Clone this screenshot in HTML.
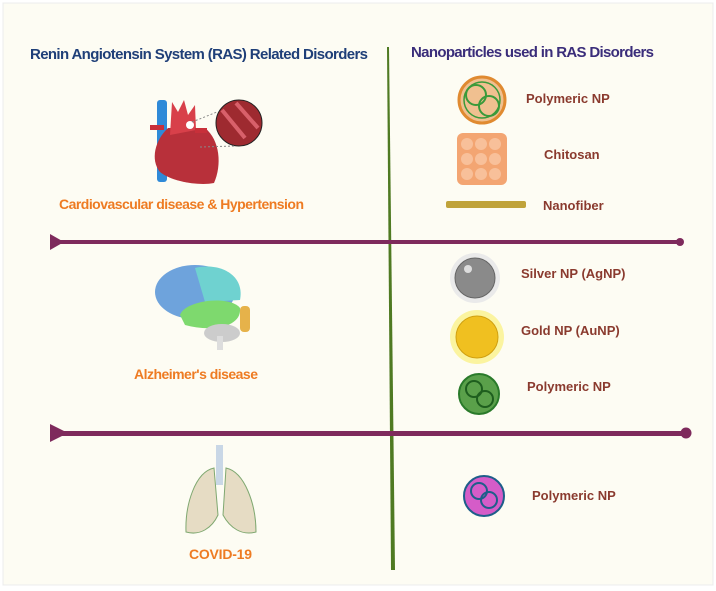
<!DOCTYPE html>
<html><head><meta charset="utf-8"><style>
html,body{margin:0;padding:0;background:#fff}
svg{display:block}
text{font-family:"Liberation Sans",sans-serif;font-weight:bold}
</style></head><body>
<svg width="716" height="591" viewBox="0 0 716 591" xmlns="http://www.w3.org/2000/svg">
<rect x="3" y="3" width="710" height="582" fill="#fdfcf3" stroke="#ececec" stroke-width="1"/>
<!-- vertical line -->
<polygon points="387,47 389,47 395,570 391,570" fill="#4f7a22"/>
<!-- horizontal lines -->
<rect x="58" y="240" width="622" height="4" fill="#7e2a5c"/>
<polygon points="50,234 50,250 64,242" fill="#7e2a5c"/>
<circle cx="680" cy="242" r="4" fill="#7e2a5c"/>
<rect x="58" y="431" width="628" height="5" fill="#7e2a5c"/>
<polygon points="50,424 50,442 68,433" fill="#7e2a5c"/>
<circle cx="686" cy="433" r="5.5" fill="#7e2a5c"/>
<!-- titles -->
<text x="30" y="59" font-size="15" fill="#1f3f78" textLength="338">Renin Angiotensin System (RAS) Related Disorders</text>
<text x="411" y="57" font-size="15" fill="#3a2d7a" textLength="243">Nanoparticles used in RAS Disorders</text>
<!-- heart -->
<rect x="157" y="100" width="10" height="82" fill="#2f8ad8" rx="3"/>
<path d="M168,128 C155,140 150,160 160,172 C172,182 200,186 214,183 C222,165 220,140 205,128 Z" fill="#b8303a"/>
<path d="M170,135 L172,102 L178,112 L184,100 L188,115 L195,105 L196,130 Z" fill="#d8404a"/>
<rect x="150" y="125" width="14" height="5" fill="#c8303a"/>
<rect x="195" y="128" width="12" height="5" fill="#c8303a"/>
<circle cx="190" cy="125" r="4" fill="#fff"/>
<circle cx="239" cy="123" r="23" fill="#9e2a30" stroke="#222" stroke-width="1"/>
<path d="M222,110 L245,138 M236,103 L258,128" stroke="#d8606a" stroke-width="4"/>
<line x1="192" y1="122" x2="217" y2="112" stroke="#888" stroke-dasharray="2,2"/>
<line x1="200" y1="147" x2="235" y2="146" stroke="#888" stroke-dasharray="2,2"/>
<text x="59" y="209" font-size="14" fill="#ee7b22" textLength="245">Cardiovascular disease &amp; Hypertension</text>
<!-- brain -->
<ellipse cx="195" cy="292" rx="40" ry="27" fill="#6ea3dc"/>
<path d="M195,268 C220,262 245,275 240,300 L205,302 Z" fill="#6fd2d0"/>
<path d="M180,315 C185,300 230,295 240,308 C242,328 210,332 185,325 Z" fill="#7ed96e"/>
<rect x="240" y="306" width="10" height="26" rx="4" fill="#e6b24a"/>
<ellipse cx="222" cy="333" rx="18" ry="9" fill="#ccc"/>
<rect x="217" y="336" width="6" height="14" fill="#ddd"/>
<text x="134" y="379" font-size="14" fill="#ee7b22" textLength="124">Alzheimer's disease</text>
<!-- lungs -->
<rect x="216" y="445" width="7" height="40" fill="#c9d7e6"/>
<path d="M214,468 C195,472 185,505 186,532 C200,536 212,528 218,515 Z" fill="#e6dcc4" stroke="#7fa870"/>
<path d="M226,468 C245,472 256,505 256,532 C242,536 230,528 223,515 Z" fill="#e6dcc4" stroke="#7fa870"/>
<text x="189" y="559" font-size="14" fill="#ee7b22" textLength="63">COVID-19</text>
<!-- NPs right -->
<circle cx="482" cy="100" r="23" fill="#f0c090" stroke="#e08a30" stroke-width="3"/>
<circle cx="476" cy="95" r="10" fill="none" stroke="#3a9a3a" stroke-width="2"/>
<circle cx="489" cy="106" r="10" fill="none" stroke="#3a9a3a" stroke-width="2"/>
<circle cx="482" cy="100" r="18" fill="none" stroke="#3a9a3a" stroke-width="1.5"/>
<text x="526" y="103" font-size="13" fill="#8a3a2e">Polymeric NP</text>
<rect x="457" y="133" width="50" height="52" rx="6" fill="#f3a572"/>
<g fill="#f8c09a">
<circle cx="467" cy="144" r="6"/><circle cx="481" cy="144" r="6"/><circle cx="495" cy="144" r="6"/>
<circle cx="467" cy="159" r="6"/><circle cx="481" cy="159" r="6"/><circle cx="495" cy="159" r="6"/>
<circle cx="467" cy="174" r="6"/><circle cx="481" cy="174" r="6"/><circle cx="495" cy="174" r="6"/></g>
<text x="544" y="159" font-size="13" fill="#8a3a2e">Chitosan</text>
<rect x="446" y="201" width="80" height="7" rx="2" fill="#c0a33a"/>
<text x="543" y="210" font-size="13" fill="#8a3a2e">Nanofiber</text>
<circle cx="475" cy="278" r="25" fill="#eaeaea"/>
<circle cx="475" cy="278" r="20" fill="#8a8a8a" stroke="#666"/>
<circle cx="468" cy="269" r="4" fill="#ddd"/>
<text x="521" y="278" font-size="13" fill="#8a3a2e">Silver NP (AgNP)</text>
<circle cx="477" cy="337" r="27" fill="#fbf4a0"/>
<circle cx="477" cy="337" r="21" fill="#f0c020" stroke="#d0a010"/>
<text x="521" y="335" font-size="13" fill="#8a3a2e">Gold NP (AuNP)</text>
<circle cx="479" cy="394" r="20" fill="#5aa04a" stroke="#2a7a2a" stroke-width="2"/>
<circle cx="474" cy="389" r="8" fill="none" stroke="#1e5e1e" stroke-width="2"/>
<circle cx="485" cy="399" r="8" fill="none" stroke="#1e5e1e" stroke-width="2"/>
<text x="527" y="391" font-size="13" fill="#8a3a2e">Polymeric NP</text>
<circle cx="484" cy="496" r="20" fill="#d55cc8" stroke="#1e5e8a" stroke-width="2"/>
<circle cx="479" cy="491" r="8" fill="none" stroke="#1e5e8a" stroke-width="2"/>
<circle cx="489" cy="500" r="8" fill="none" stroke="#1e5e8a" stroke-width="2"/>
<text x="532" y="500" font-size="13" fill="#8a3a2e">Polymeric NP</text>
</svg>
</body></html>
